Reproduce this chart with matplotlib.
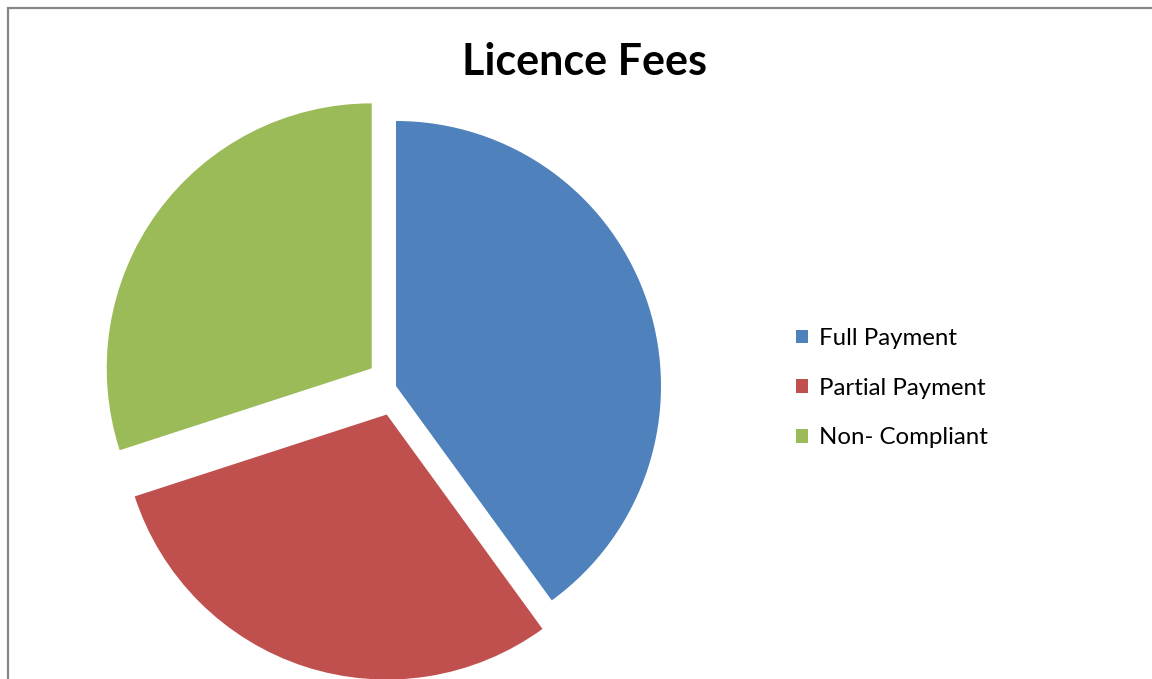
import matplotlib.pyplot as plt
from matplotlib.patches import Rectangle

# data
labels = ["Full Payment", "Partial Payment", "Non- Compliant"]
shares = [40, 30, 30]
colors = ["#4F81BD", "#C0504D", "#9BBB59"]

W, H = 1152, 679
fig = plt.figure(figsize=(W / 100, H / 100), dpi=100)
ax = fig.add_axes([0, 0, 1, 1])

# explode is in data units here (axes run in pixels)
wedges, _ = ax.pie(shares, colors=colors, explode=[0, 30, 30], startangle=90,
                   counterclock=False, center=(396, H - 386), radius=265,
                   frame=True)
ax.set_xlim(0, W)
ax.set_ylim(0, H)
ax.set_aspect("equal")
ax.axis("off")

# chart border (cut off at right and bottom like the screenshot)
fig.patches.append(Rectangle((8 / W, -0.1), 1.2, 1.1 - 8 / H, transform=fig.transFigure,
                             fill=False, edgecolor="#868686", linewidth=1.6))

fig.text(585 / W, 1 - 62 / H, "Licence Fees", ha="center", va="center",
         fontsize=31, fontweight="bold", family="Lato")

leg = fig.legend(wedges, labels, loc="upper left", bbox_to_anchor=(796 / W, 1 - 328 / H),
                 frameon=False, prop={"family": "Lato", "size": 17.3},
                 handlelength=0.5, handleheight=0.5, handletextpad=0.45,
                 labelspacing=1.19, borderpad=0, borderaxespad=0)

fig.savefig("out.png", dpi=100)
